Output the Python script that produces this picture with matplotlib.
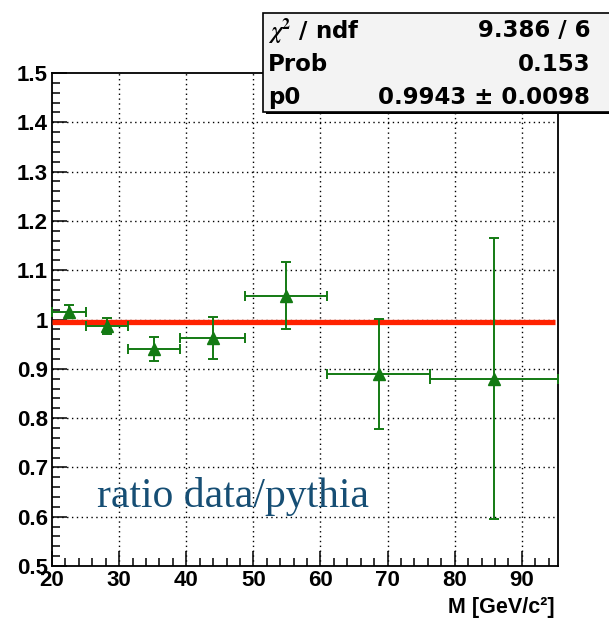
import matplotlib
matplotlib.use('Agg')
import matplotlib.pyplot as plt
from matplotlib.patches import Rectangle
from matplotlib.ticker import MultipleLocator

# ─── Data ─────────────────────────────────────────────────────────────────────

bin_edges = [20, 25, 31.25, 39.06, 48.83, 61.04, 76.29, 95.37]
ratio = [1.016, 0.987, 0.940, 0.962, 1.048, 0.889, 0.880]
ratio_err = [0.013, 0.017, 0.025, 0.043, 0.068, 0.112, 0.285]
fit_p0 = 0.9943
fit_range = [20, 95]

y_ticks = [0.5, 0.6, 0.7, 0.8, 0.9, 1.0, 1.1, 1.2, 1.3, 1.4, 1.5]
y_tick_labels = ['0.5', '0.6', '0.7', '0.8', '0.9', '1', '1.1', '1.2', '1.3', '1.4', '1.5']
x_ticks = [20, 30, 40, 50, 60, 70, 80, 90]

stats_rows = [
    (r'$\chi^{2}$ / ndf', '9.386 / 6'),
    ('Prob', '0.153'),
    ('p0', '0.9943 \u00b1 0.0098'),
]

GREEN = '#137a13'
RED = '#ff2200'
LABEL_BLUE = '#164e74'

plt.rcParams.update({
    'font.family': ['Liberation Sans', 'DejaVu Sans'],
    'font.weight': 'bold',
    'mathtext.fontset': 'stix',
})

fig = plt.figure(figsize=(6.09, 6.18), dpi=100)
ax = fig.add_axes([0.0854, 0.084, 0.8306, 0.798])

centers = [(lo + hi) / 2 for lo, hi in zip(bin_edges[:-1], bin_edges[1:])]
half_w = [(hi - lo) / 2 for lo, hi in zip(bin_edges[:-1], bin_edges[1:])]

# fit line
ax.plot(fit_range, [fit_p0, fit_p0], color=RED, lw=3.8, zorder=3, solid_capstyle='butt')

# data points
ax.errorbar(centers, ratio, xerr=half_w, yerr=ratio_err, fmt='^', color=GREEN,
            ms=8, lw=1.4, capsize=3.5, capthick=1.4, zorder=4, clip_on=False)

ax.set_xlim(bin_edges[0], bin_edges[-1])
ax.set_ylim(0.5, 1.5)
ax.set_xticks(x_ticks)
ax.set_yticks(y_ticks)
ax.set_yticklabels(y_tick_labels)
ax.xaxis.set_minor_locator(MultipleLocator(2))
ax.yaxis.set_minor_locator(MultipleLocator(0.02))
ax.tick_params(which='major', direction='in', length=11, width=1.1,
               labelsize=16, top=False, right=False, pad=3)
ax.tick_params(which='minor', direction='in', length=5.5, width=1.1,
               top=False, right=False)
for lab in ax.get_xticklabels() + ax.get_yticklabels():
    lab.set_fontweight('bold')
for sp in ax.spines.values():
    sp.set_linewidth(1.3)

# dotted grid at inner major ticks
for xv in x_ticks[1:]:
    ax.axvline(xv, color='black', lw=1, ls=(0, (1, 2.5)), zorder=1)
for yv in y_ticks[1:-1]:
    ax.axhline(yv, color='black', lw=1, ls=(0, (1, 2.5)), zorder=1)

ax.set_xlabel('M [GeV/c\u00b2]', fontsize=15.5, fontweight='bold', loc='right')
ax.xaxis.label.set_va('center')
ax.xaxis.set_label_coords(0.994, -0.083)

ax.text(26.7, 0.642, 'ratio data/pythia', family='Liberation Serif', fontweight='normal',
        fontsize=30, color=LABEL_BLUE, va='center', ha='left')

# ─── Fit statistics box ───────────────────────────────────────────────────────

bx0, by0, bx1, by1 = 0.432, 0.819, 1.02, 0.979
fig.patches.append(Rectangle((bx0 + 0.004, by0 - 0.004), bx1 - bx0, by1 - by0,
                             transform=fig.transFigure, facecolor='black',
                             edgecolor='none', zorder=10))
fig.patches.append(Rectangle((bx0, by0), bx1 - bx0, by1 - by0,
                             transform=fig.transFigure, facecolor='#f3f3f3',
                             edgecolor='black', lw=1.2, zorder=11))
row_y = [0.950, 0.895, 0.842]
for (name, val), yy in zip(stats_rows, row_y):
    fig.text(0.440, yy, name, family='DejaVu Sans', fontsize=16.5, fontweight='bold',
             va='center', ha='left', zorder=12)
    fig.text(0.969, yy, val, family='DejaVu Sans', fontsize=16.5, fontweight='bold',
             va='center', ha='right', zorder=12)

fig.savefig('out.png', dpi=100, facecolor='white')
